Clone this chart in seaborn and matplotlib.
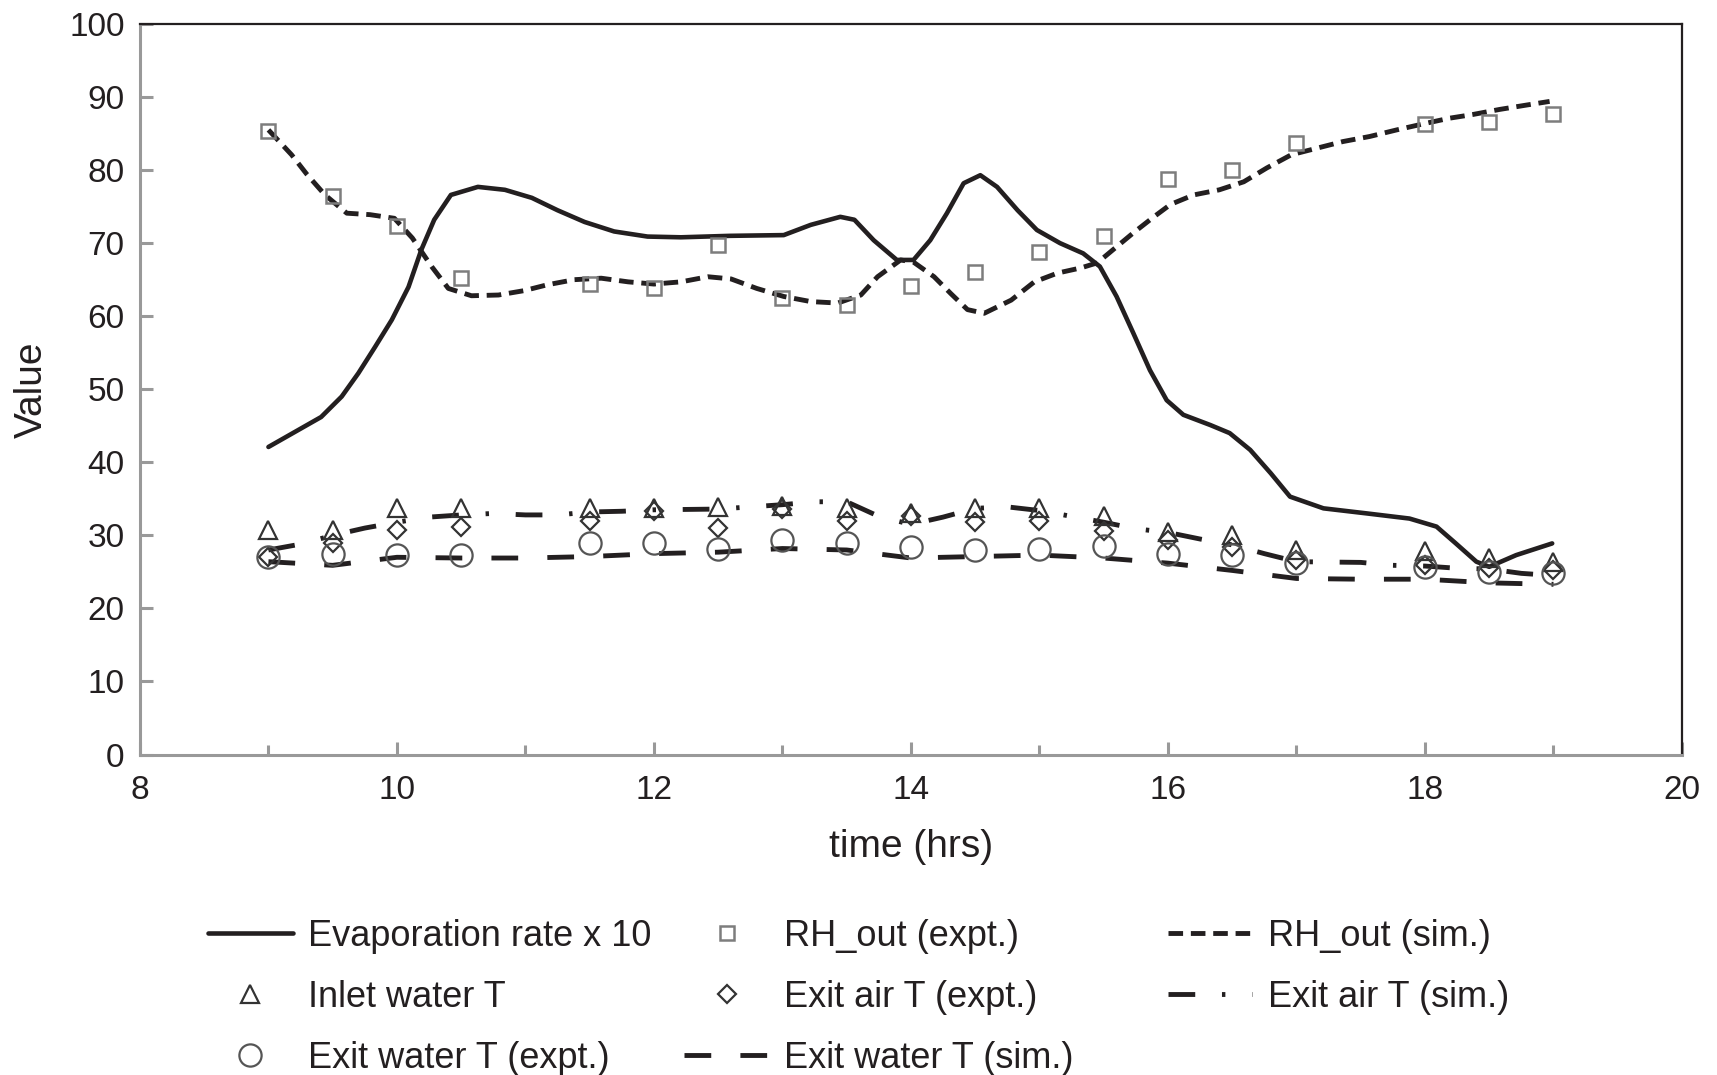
import matplotlib
matplotlib.use("Agg")
import matplotlib.pyplot as plt
import seaborn as sns

# readings from the reference (time in hrs)
t_evap = [9.0, 9.23, 9.41, 9.57, 9.7, 9.83, 9.96, 10.09, 10.19, 10.29, 10.42, 10.63, 10.84, 11.05,
          11.25, 11.46, 11.69, 11.95, 12.21, 12.59, 13.01, 13.22, 13.45, 13.56, 13.71, 13.89, 14.02,
          14.15, 14.28, 14.41, 14.54, 14.67, 14.83, 14.98, 15.16, 15.34, 15.47, 15.6, 15.73, 15.86,
          15.99, 16.12, 16.33, 16.48, 16.64, 16.8, 16.95, 17.21, 17.55, 17.88, 18.09, 18.24, 18.4,
          18.5, 18.71, 18.99]
evap_x10 = [42.1, 44.4, 46.2, 49.0, 52.2, 55.8, 59.5, 64.0, 69.1, 73.2, 76.6, 77.7, 77.3, 76.2,
            74.5, 72.9, 71.6, 70.9, 70.8, 71.0, 71.1, 72.5, 73.6, 73.2, 70.4, 67.7, 67.7,
            70.4, 74.1, 78.2, 79.3, 77.7, 74.5, 71.8, 70.0, 68.6, 66.8, 62.7, 57.7, 52.6,
            48.5, 46.5, 45.1, 44.0, 41.7, 38.5, 35.3, 33.7, 33.0, 32.3, 31.2, 28.9, 26.4,
            25.7, 27.3, 28.9]

t_rh_sim = [9.0, 9.18, 9.3, 9.44, 9.61, 9.79, 9.98, 10.12, 10.27, 10.4, 10.58, 10.79, 10.99, 11.17,
            11.38, 11.59, 11.8, 12.0, 12.21, 12.42, 12.6, 12.8, 13.01, 13.22, 13.43, 13.61, 13.74,
            13.92, 14.02, 14.18, 14.31, 14.44, 14.57, 14.78, 14.96, 15.14, 15.32, 15.45, 15.6,
            15.73, 15.89, 16.02, 16.2, 16.4, 16.59, 16.77, 16.96, 17.16, 17.36, 17.57, 17.78,
            17.98, 18.19, 18.37, 18.58, 18.79, 18.97]
rh_sim = [85.5, 82.1, 79.4, 76.6, 74.1, 73.9, 73.4, 70.7, 66.8, 63.8, 62.8, 62.9, 63.5, 64.3,
          65.0, 65.2, 64.7, 64.4, 64.7, 65.4, 65.1, 63.8, 62.7, 62.0, 61.8, 62.9, 65.4,
          67.7, 67.4, 65.4, 63.1, 60.9, 60.4, 62.2, 64.7, 65.9, 66.6, 67.3, 69.5,
          71.4, 73.6, 75.3, 76.6, 77.3, 78.4, 80.3, 82.1, 83.0, 83.9, 84.6, 85.5,
          86.3, 87.1, 87.6, 88.3, 88.9, 89.4]

t_exp = [9, 9.5, 10, 10.5, 11.5, 12, 12.5, 13, 13.5, 14, 14.5, 15, 15.5, 16, 16.5, 17, 18, 18.5, 19]
rh_exp = [85.4, 76.4, 72.3, 65.2, 64.4, 63.9, 69.8, 62.5, 61.5, 64.1, 66.1, 68.8, 71.0, 78.8,
          80.0, 83.7, 86.3, 86.6, 87.7]
inlet_water = [30.7, 30.7, 33.7, 33.7, 33.7, 33.8, 33.9, 34.0, 33.8, 33.1, 33.7, 33.8, 32.7, 30.5,
               30.0, 28.0, 27.8, 26.9, 26.3]
exit_air_exp = [27.0, 28.9, 30.7, 31.1, 32.0, 33.3, 31.0, 33.6, 32.0, 32.6, 31.8, 32.0, 30.6, 29.3,
                28.4, 26.6, 25.9, 25.5, 25.3]
exit_water_exp = [27.0, 27.5, 27.3, 27.3, 28.9, 28.9, 28.1, 29.3, 29.0, 28.4, 28.0, 28.1, 28.5, 27.5,
                  27.3, 26.2, 25.7, 25.0, 24.8]

t_air_sim = [9.0, 9.25, 9.5, 9.75, 10.0, 10.25, 10.5, 10.75, 11.0, 11.25, 11.5, 11.75, 12.0, 12.5,
             12.75, 13.0, 13.25, 13.5, 13.75, 14.0, 14.25, 14.5, 14.75, 15.0, 15.25, 15.5, 15.75,
             16.0, 16.25, 16.5, 16.75, 17.0, 17.5, 17.75, 18.0, 18.25, 18.5, 18.75, 19.0]
exit_air_sim = [28.0, 28.8, 30.0, 31.0, 31.8, 32.5, 32.8, 33.0, 32.8, 32.8, 33.2, 33.3, 33.5, 33.6,
                33.9, 34.2, 34.6, 34.6, 32.6, 31.5, 32.5, 33.7, 33.9, 33.4, 32.6, 31.8, 30.9,
                30.4, 29.5, 28.7, 27.5, 26.4, 26.3, 25.9, 25.8, 25.5, 25.4, 24.8, 24.5]

t_water_sim = [9.0, 9.5, 10.0, 10.5, 11.0, 11.5, 12.0, 12.5, 13.0, 13.5, 14.0, 14.5, 15.0, 15.5,
               16.0, 16.5, 17.0, 17.5, 18.0, 18.5, 19.0]
exit_water_sim = [26.4, 25.9, 27.0, 26.9, 26.9, 27.1, 27.5, 27.7, 28.2, 28.0, 26.9, 27.1, 27.3, 26.9,
                  26.2, 25.2, 24.1, 24.0, 24.0, 23.5, 23.3]

ink = "#231f20"
grey_axis = "#999999"

sns.set_theme(style="ticks")
plt.rcParams["font.family"] = ["Liberation Sans", "DejaVu Sans"]

fig = plt.figure(figsize=(17.17, 10.75), dpi=100)
ax = fig.add_axes([0.0815, 0.2981, 0.8981, 0.6796])

sns.lineplot(x=t_evap, y=evap_x10, ax=ax, color=ink, linewidth=3.3, label="Evaporation rate x 10")
sns.lineplot(x=t_rh_sim, y=rh_sim, ax=ax, color=ink, linewidth=3.5,
             linestyle=(0, (3.0, 1.6)), label="RH_out (sim.)")
sns.lineplot(x=t_air_sim, y=exit_air_sim, ax=ax, color=ink, linewidth=3.5,
             linestyle=(0, (5.5, 5.5, 0.7, 5.5)), label="Exit air T (sim.)")
sns.lineplot(x=t_water_sim, y=exit_water_sim, ax=ax, color=ink, linewidth=3.5,
             linestyle=(0, (5.5, 6.0)), label="Exit water T (sim.)")

sns.lineplot(x=t_exp, y=rh_exp, ax=ax, linestyle="none", marker="s", markersize=10.5,
             markerfacecolor="none", markeredgecolor="#7d7d7d", markeredgewidth=1.8,
             color="#7d7d7d", label="RH_out (expt.)")
sns.lineplot(x=t_exp, y=inlet_water, ax=ax, linestyle="none", marker="^", markersize=12.5,
             markerfacecolor="none", markeredgecolor="#333333", markeredgewidth=1.6,
             color="#333333", label="Inlet water T")
sns.lineplot(x=t_exp, y=exit_air_exp, ax=ax, linestyle="none", marker="D", markersize=9,
             markerfacecolor="none", markeredgecolor="#333333", markeredgewidth=1.6,
             color="#333333", label="Exit air T (expt.)")
sns.lineplot(x=t_exp, y=exit_water_exp, ax=ax, linestyle="none", marker="o", markersize=16,
             markerfacecolor="none", markeredgecolor="#555555", markeredgewidth=1.6,
             color="#555555", label="Exit water T (expt.)")

if ax.get_legend() is not None:
    ax.get_legend().remove()

ax.set_xlim(8, 20)
ax.set_ylim(0, 100)
ax.set_xticks(range(8, 21, 2))
ax.set_xticks(range(9, 21, 2), minor=True)
ax.set_yticks(range(0, 101, 10))
ax.tick_params(axis="both", which="major", direction="in", length=9.5, width=2.2,
               color=grey_axis, labelsize=24, labelcolor=ink)
ax.tick_params(axis="x", which="major", pad=15)
ax.tick_params(axis="y", which="major", pad=11)
ax.tick_params(axis="x", which="minor", direction="in", length=7, width=2.2, color=grey_axis)
for side in ["left", "bottom"]:
    ax.spines[side].set_color(grey_axis)
    ax.spines[side].set_linewidth(2.2)
for side in ["top", "right"]:
    ax.spines[side].set_visible(True)
    ax.spines[side].set_color(ink)
    ax.spines[side].set_linewidth(1.6)

ax.set_xlabel("time (hrs)", fontsize=28, color=ink, labelpad=16)
ax.set_ylabel("Value", fontsize=28, color=ink, labelpad=14)

handles, labels = ax.get_legend_handles_labels()
lookup = dict(zip(labels, handles))
columns = [
    (["Evaporation rate x 10", "Inlet water T", "Exit water T (expt.)"], 0.121),
    (["RH_out (expt.)", "Exit air T (expt.)", "Exit water T (sim.)"], 0.3985),
    (["RH_out (sim.)", "Exit air T (sim.)"], 0.680),
]
for names, x0 in columns:
    leg = fig.legend([lookup[n] for n in names], names, loc="upper left",
                     bbox_to_anchor=(x0, 0.145), frameon=False, borderpad=0,
                     borderaxespad=0, handlelength=2.35, handletextpad=0.42,
                     labelspacing=0.72, prop={"size": 26})
    for txt in leg.get_texts():
        txt.set_color(ink)

fig.savefig("out.png", dpi=100)
